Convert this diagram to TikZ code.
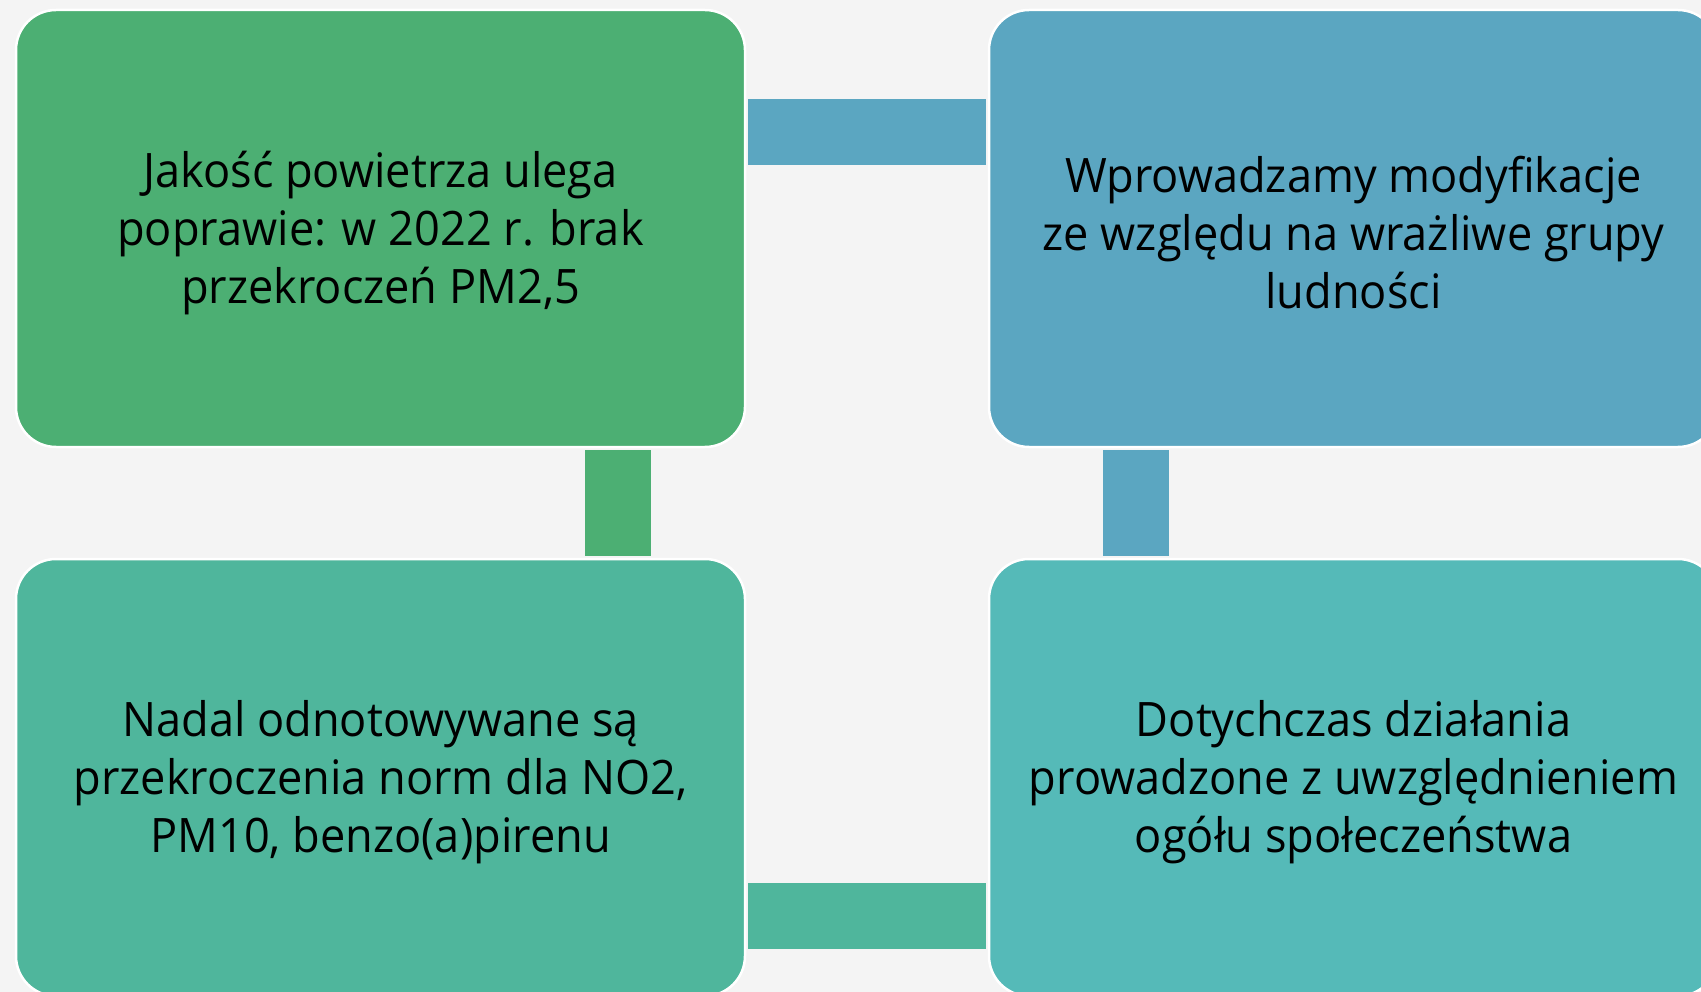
\documentclass[tikz,border=0pt]{standalone}
\usepackage{fontspec}
\setmainfont{Open Sans}[FakeStretch=0.95]
\definecolor{bgc}{HTML}{F4F4F4}
\definecolor{cgreen}{HTML}{4CAF73}
\definecolor{cblue}{HTML}{5BA6C1}
\definecolor{cteal}{HTML}{4FB69C}
\definecolor{ccyan}{HTML}{55BAB8}
\tikzset{
  box/.style={rectangle, rounded corners=40pt, draw=white, line width=2.5pt,
    minimum width=729pt, minimum height=437pt, inner sep=0pt},
  boxtext/.style={inner sep=0pt, align=center, font=\fontsize{47.5}{58}\selectfont, text=black},
  bar/.style={line width=66pt, line cap=butt, shorten <=2pt, shorten >=2pt}
}
\begin{document}
\begin{tikzpicture}[x=1pt,y=-1pt]
\useasboundingbox (0,0) rectangle (1701,992);
\clip (0,0) rectangle (1701,992);
\fill[bgc] (0,0) rectangle (1701,992);
\node[box, fill=cgreen] (a) at (380.5,228.5) {};
\node[box, fill=cblue] (b) at (1353.5,228.5) {};
\node[box, fill=cteal] (c) at (380.5,777.5) {};
\node[box, fill=ccyan] (d) at (1353.5,777.5) {};
\node[boxtext] (at) at ([yshift=-4.5pt]a.center) {Jakość powietrza ulega\\poprawie: w 2022 r. brak\\przekroczeń PM2,5};
\node[boxtext] (bt) at ([yshift=-4.5pt]b.center) {Wprowadzamy modyfikacje\\ze względu na wrażliwe grupy\\ludności};
\node[boxtext] (ct) at ([yshift=-4.5pt]c.center) {Nadal odnotowywane są\\przekroczenia norm dla NO2,\\PM10, benzo(a)pirenu};
\node[boxtext] (dt) at ([yshift=-4.5pt]d.center) {Dotychczas działania\\prowadzone z uwzględnieniem\\ogółu społeczeństwa};
\draw[bar, cblue] ([yshift=96.5pt]a.east) -- ([yshift=96.5pt]b.west);
\draw[bar, cgreen] ([xshift=237.5pt]a.south) -- ([xshift=237.5pt]c.north);
\draw[bar, cblue] ([xshift=-217.5pt]b.south) -- ([xshift=-217.5pt]d.north);
\draw[bar, cteal] ([yshift=-138.5pt]c.east) -- ([yshift=-138.5pt]d.west);
\end{tikzpicture}
\end{document}
